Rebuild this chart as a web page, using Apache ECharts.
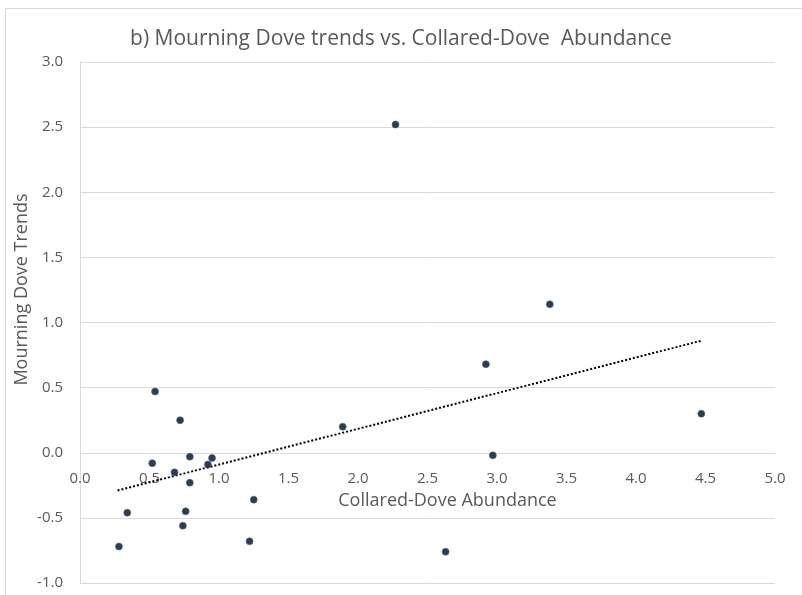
<!DOCTYPE html>
<html>
<head>
<meta charset="utf-8">
<script src="https://cdn.jsdelivr.net/npm/echarts@6/dist/echarts.min.js"></script>
<style>html,body{margin:0;padding:0;background:#fff}#c{width:802px;height:595px}</style>
</head>
<body>
<div id="c"></div>
<script>
// Collared-Dove abundance (x) vs Mourning Dove trend (y)
const abundance = [0.28, 0.34, 0.52, 0.54, 0.68, 0.72, 0.74, 0.76, 0.79, 0.79, 0.92, 0.95, 1.22, 1.25, 1.89, 2.27, 2.63, 2.92, 2.97, 3.38, 4.47];
const trend     = [-0.72, -0.46, -0.08, 0.47, -0.15, 0.25, -0.56, -0.45, -0.03, -0.23, -0.09, -0.04, -0.68, -0.36, 0.20, 2.52, -0.76, 0.68, -0.02, 1.14, 0.30];
// Linear trendline end points
const trendX = [0.27, 4.47];
const trendY = [-0.29, 0.86];

const xTicks = { min: 0, max: 5, interval: 0.5 };
const yTicks = { min: -1, max: 3, interval: 0.5 };

const points = abundance.map((x, i) => [x, trend[i]]);
const trendLine = trendX.map((x, i) => [x, trendY[i]]);

const txt = '#595959';
const font = 'Open Sans';
const chart = echarts.init(document.getElementById('c'));
chart.setOption({
  animation: false,
  backgroundColor: '#fff',
  textStyle: { fontFamily: font },
  title: {
    text: 'b) Mourning Dove trends vs. Collared-Dove  Abundance',
    left: 'center', top: 24,
    textStyle: { fontFamily: font, fontSize: 21, fontWeight: 'normal', color: txt }
  },
  graphic: [{
    type: 'rect', left: 3, top: 6, silent: true,
    shape: { width: 797, height: 600 },
    style: { fill: 'none', stroke: '#d9d9d9', lineWidth: 1 }
  }],
  grid: { left: 80, right: 27, top: 62, bottom: 12, containLabel: false, outerBoundsMode: 'none' },
  xAxis: {
    type: 'value', min: xTicks.min, max: xTicks.max, interval: xTicks.interval,
    position: 'bottom', offset: -130,
    name: 'Collared-Dove Abundance', nameLocation: 'middle', nameGap: 39, nameMoveOverlap: false,
    nameTextStyle: { fontFamily: font, fontSize: 18, color: txt, padding: [0, 0, 0, 40] },
    axisLine: { show: true, onZero: false, lineStyle: { color: '#d9d9d9' } },
    axisTick: { show: false },
    splitLine: { show: false },
    axisLabel: { color: txt, fontSize: 15, margin: 18, formatter: v => v.toFixed(1) }
  },
  yAxis: {
    type: 'value', min: yTicks.min, max: yTicks.max, interval: yTicks.interval,
    name: 'Mourning Dove Trends', nameLocation: 'middle', nameGap: 49, nameMoveOverlap: false,
    nameTextStyle: { fontFamily: font, fontSize: 18, color: txt, padding: [0, 0, 0, 66] },
    axisLine: { show: true, onZero: false, lineStyle: { color: '#d9d9d9' } },
    axisTick: { show: false },
    splitLine: { show: true, lineStyle: { color: '#d9d9d9' } },
    axisLabel: { color: txt, fontSize: 15, margin: 17, formatter: v => v.toFixed(1) }
  },
  series: [
    {
      type: 'line', data: trendLine, symbol: 'none', silent: true,
      lineStyle: { color: '#000', width: 2, type: [2, 2] }, z: 1
    },
    {
      type: 'scatter', data: points, symbolSize: 7,
      itemStyle: { color: '#000a1c', borderColor: '#3d6c9c', borderWidth: 0.8 }, z: 3
    }
  ]
});
</script>
</body>
</html>
